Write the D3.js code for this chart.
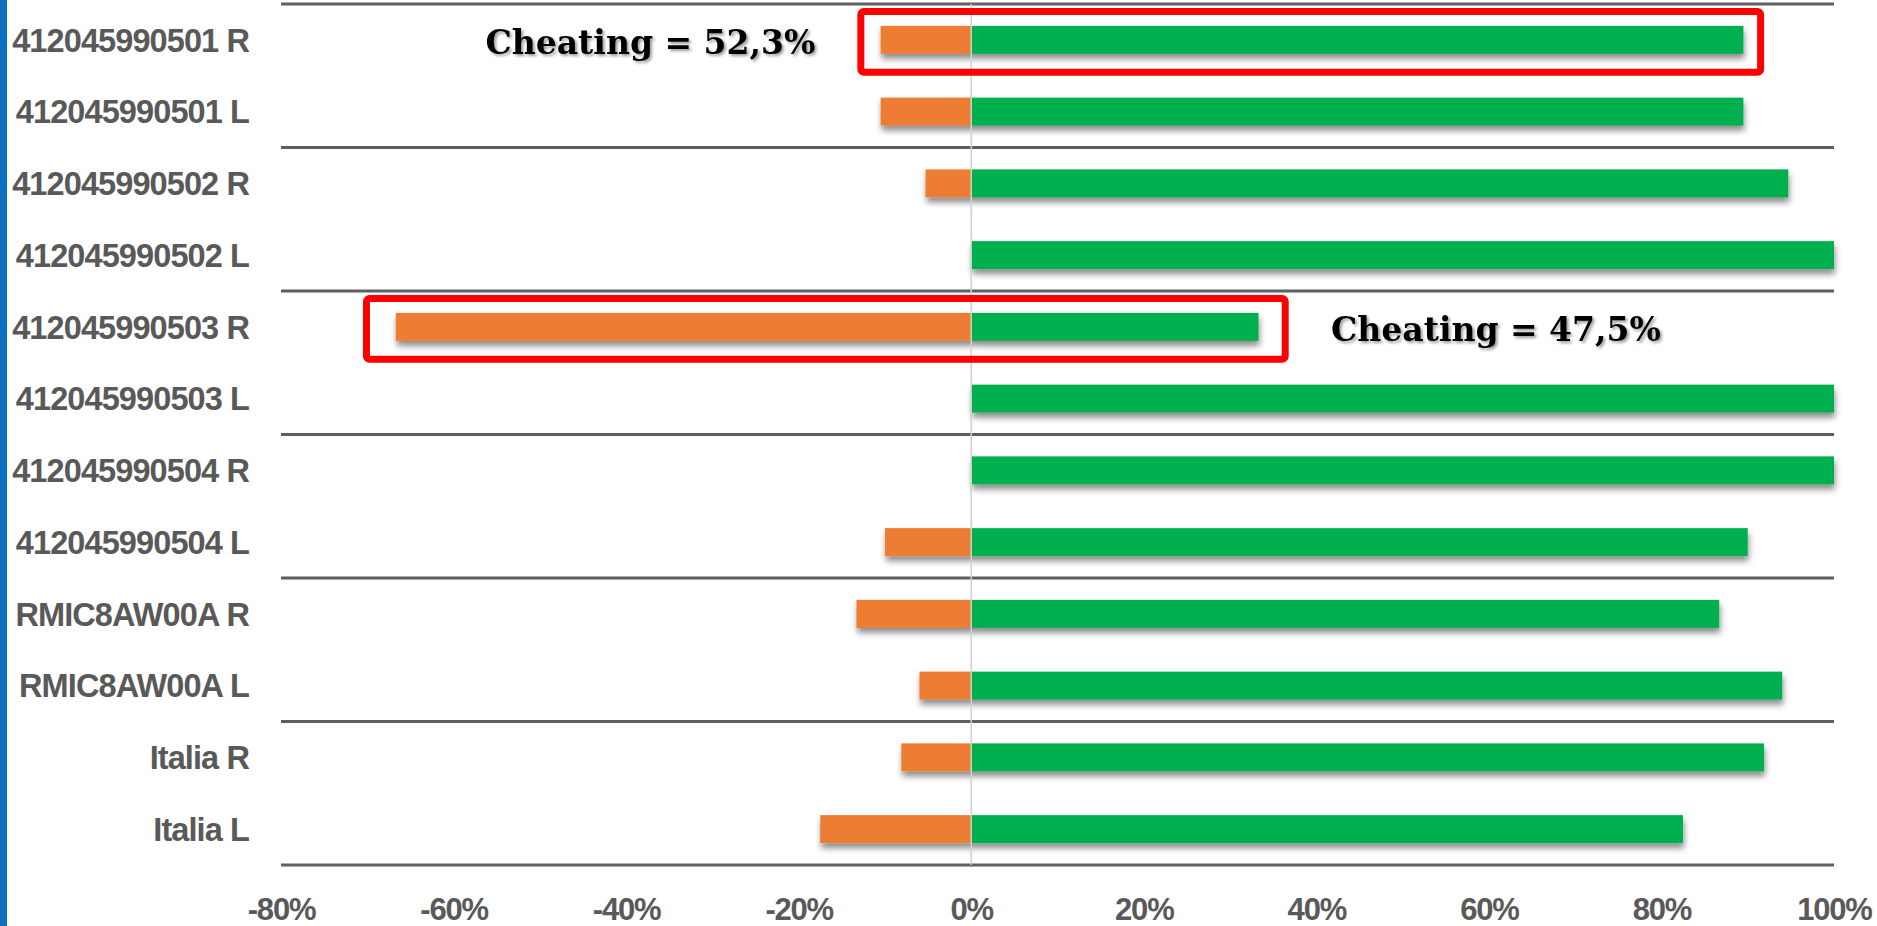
<!DOCTYPE html>
<html>
<head>
<meta charset="utf-8">
<script src="https://cdn.jsdelivr.net/npm/d3@7"></script>
<style>
  html, body { margin: 0; padding: 0; background: #ffffff; }
  svg { display: block; }
</style>
</head>
<body>
<svg id="chart" width="1877" height="926"></svg>
<script>
// Row labels, top to bottom
const categories = [
  "412045990501 R", "412045990501 L",
  "412045990502 R", "412045990502 L",
  "412045990503 R", "412045990503 L",
  "412045990504 R", "412045990504 L",
  "RMIC8AW00A R", "RMIC8AW00A L",
  "Italia R", "Italia L"
];
// Share of wrong answers (drawn to the left of zero)
const wrongValues = [-0.105, -0.105, -0.053, 0, -0.667, 0, 0, -0.10, -0.133, -0.06, -0.081, -0.175];
// Share of correct answers (drawn to the right of zero)
const rightValues = [0.895, 0.895, 0.947, 1, 0.333, 1, 1, 0.90, 0.867, 0.94, 0.919, 0.825];
// Axis ticks
const tickValues = [-0.8, -0.6, -0.4, -0.2, 0, 0.2, 0.4, 0.6, 0.8, 1];
// Highlighted rows: row index, box extent in axis units, note text, note start
const noteRows = [0, 4];
const noteBoxFrom = [-0.132, -0.705];
const noteBoxTo = [0.919, 0.368];
const noteTexts = ["Cheating = 52,3%", "Cheating = 47,5%"];
const noteStart = [-0.563, 0.417];

const svg = d3.select("#chart");
const plotLeft = 281, plotRight = 1834, plotTop = 4, plotBottom = 865;

const x = d3.scaleLinear().domain([-0.8, 1]).range([plotLeft, plotRight]);
const y = d3.scaleBand().domain(categories).range([plotTop, plotBottom])
  .paddingInner(0.61).paddingOuter(0.305);
const step = y.step();

const defs = svg.append("defs");
const sh = defs.append("filter").attr("id", "barShadow")
  .attr("x", "-5%").attr("y", "-40%").attr("width", "115%").attr("height", "220%");
sh.append("feDropShadow").attr("dx", 1).attr("dy", 5).attr("stdDeviation", 3)
  .attr("flood-color", "#000").attr("flood-opacity", 0.45);
const tsh = defs.append("filter").attr("id", "textShadow")
  .attr("x", "-10%").attr("y", "-30%").attr("width", "125%").attr("height", "180%");
tsh.append("feDropShadow").attr("dx", 2).attr("dy", 2).attr("stdDeviation", 1.5)
  .attr("flood-color", "#000").attr("flood-opacity", 0.4);

// Blue edge strip
svg.append("rect").attr("x", 0).attr("y", 0).attr("width", 7).attr("height", 926)
  .attr("fill", "#0a70c0");

// Group separator lines (every two rows)
const sepIdx = d3.range(0, categories.length + 1, 2);
svg.append("g").selectAll("line").data(sepIdx).join("line")
  .attr("x1", plotLeft).attr("x2", plotRight)
  .attr("y1", i => plotTop + i * step).attr("y2", i => plotTop + i * step)
  .attr("stroke", "#5f5f5f").attr("stroke-width", 3);

// Bars
const bars = svg.append("g").attr("filter", "url(#barShadow)");
bars.selectAll("rect.wrong").data(categories).join("rect").attr("class", "wrong")
  .attr("x", (d, i) => x(wrongValues[i]))
  .attr("width", (d, i) => x(0) - x(wrongValues[i]))
  .attr("y", d => y(d)).attr("height", y.bandwidth())
  .attr("fill", "#ed7d31");
bars.selectAll("rect.right").data(categories).join("rect").attr("class", "right")
  .attr("x", x(0))
  .attr("width", (d, i) => x(rightValues[i]) - x(0))
  .attr("y", d => y(d)).attr("height", y.bandwidth())
  .attr("fill", "#00b050");

// Zero line
svg.append("line").attr("x1", x(0)).attr("x2", x(0)).attr("y1", plotTop).attr("y2", plotBottom)
  .attr("stroke", "#d0d0d0").attr("stroke-width", 1.5);

// Category labels
svg.append("g").selectAll("text").data(categories).join("text")
  .attr("x", 249).attr("y", d => y(d) + y.bandwidth() / 2)
  .attr("dy", "0.36em").attr("text-anchor", "end")
  .attr("font-family", "Liberation Sans, Arial, sans-serif")
  .attr("font-weight", "bold").attr("font-size", 32.5)
  .attr("letter-spacing", -0.9)
  .attr("fill", "#595959")
  .text(d => d);

// X axis tick labels (plain hyphen for negatives)
const pct = v => `${Math.round(v * 100)}%`;
const xAxis = d3.axisBottom(x).tickValues(tickValues).tickSize(0).tickPadding(0)
  .tickFormat(pct);
const ax = svg.append("g").attr("transform", `translate(0, 898)`).call(xAxis);
ax.select(".domain").remove();
ax.selectAll("text")
  .attr("font-family", "Liberation Sans, Arial, sans-serif")
  .attr("font-weight", "bold").attr("font-size", 31)
  .attr("letter-spacing", -1.2)
  .attr("fill", "#595959").attr("dy", "0.71em");

// Highlight boxes and notes
noteRows.forEach((r, k) => {
  const y0 = plotTop + r * step;
  svg.append("rect")
    .attr("x", x(noteBoxFrom[k]) + 3.5).attr("y", y0 + 7.5)
    .attr("width", x(noteBoxTo[k]) - x(noteBoxFrom[k]) - 7)
    .attr("height", step - 11)
    .attr("rx", 3)
    .attr("fill", "none").attr("stroke", "#ff0000").attr("stroke-width", 7);
  svg.append("text")
    .attr("x", x(noteStart[k])).attr("y", y0 + step / 2 + 3)
    .attr("dy", "0.35em")
    .attr("font-family", "DejaVu Serif, serif")
    .attr("font-weight", "bold").attr("font-size", 33)
    .attr("fill", "#000")
    .attr("filter", "url(#textShadow)")
    .text(noteTexts[k]);
});
</script>
</body>
</html>
